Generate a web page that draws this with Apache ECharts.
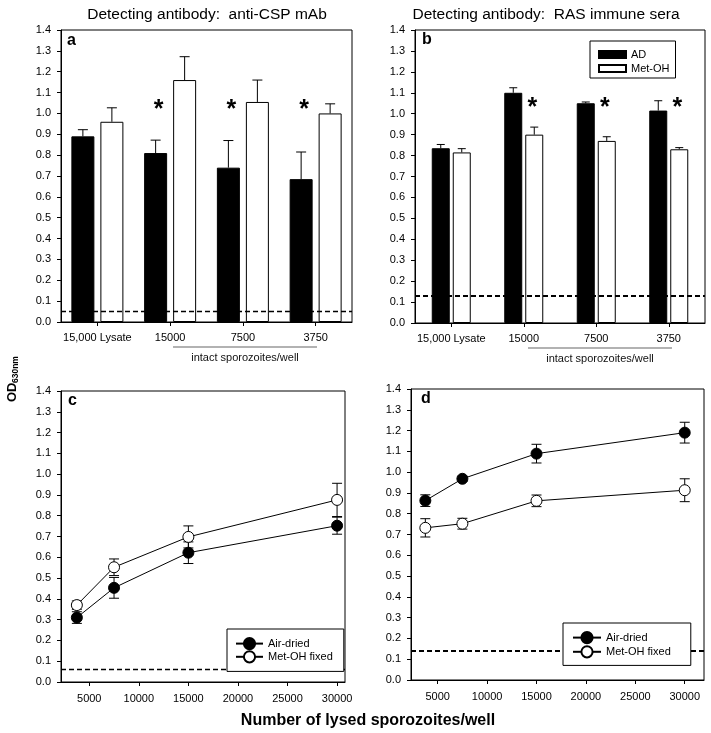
<!DOCTYPE html>
<html><head><meta charset="utf-8">
<script src="https://cdn.jsdelivr.net/npm/echarts@6/dist/echarts.min.js"></script>
<style>html,body{margin:0;padding:0;background:#fff}#c{width:711px;height:733px}</style>
</head><body><div id="c"></div>
<script>
// ---------- data ----------
const barCategories = ['15,000 Lysate', '15000', '7500', '3750'];
const cspAD = [0.89, 0.81, 0.74, 0.685];
const cspADErr = [0.032, 0.062, 0.13, 0.13];
const cspMetOH = [0.96, 1.16, 1.055, 1.0];
const cspMetOHErr = [0.067, 0.112, 0.105, 0.046];
const rasAD = [0.835, 1.10, 1.05, 1.015];
const rasADErr = [0.018, 0.024, 0.006, 0.047];
const rasMetOH = [0.815, 0.90, 0.87, 0.83];
const rasMetOHErr = [0.018, 0.036, 0.02, 0.008];
const starCatsA = [1, 2, 3];
const starValA = 1.04;
const starCatsB = [1, 2, 3];
const starValB = 1.05;
const cutoffA = 0.05, cutoffB = 0.125, cutoffC = 0.06, cutoffD = 0.145;

const lysedX = [3750, 7500, 15000, 30000];
const cAir = [0.31, 0.453, 0.622, 0.752];
const cAirErr = [0.028, 0.05, 0.052, 0.041];
const cMet = [0.37, 0.552, 0.698, 0.876];
const cMetErr = [0.02, 0.04, 0.053, 0.08];
const dAir = [0.863, 0.968, 1.089, 1.19];
const dAirErr = [0.028, 0.012, 0.045, 0.05];
const dMet = [0.732, 0.752, 0.862, 0.913];
const dMetErr = [0.044, 0.026, 0.028, 0.055];
const xTickValues = [5000, 10000, 15000, 20000, 25000, 30000];

// ---------- styling ----------
const FONT = 'Liberation Sans, Arial, sans-serif';
const grids = [
  {left: 61, top: 30, width: 291, height: 292},
  {left: 415, top: 30, width: 290, height: 293},
  {left: 61, top: 391, width: 284, height: 291},
  {left: 411, top: 389, width: 293, height: 291}
];
const BW_A = 23, GAP_A = 6, BW_B = 18, GAP_B = 3;

function yAxis(gi) {
  return {
    type: 'value', gridIndex: gi, min: 0, max: 1.4, interval: 0.1,
    axisLine: {show: true, lineStyle: {color: '#000', width: 1}},
    axisTick: {show: true, inside: false, length: 4, lineStyle: {color: '#000'}},
    axisLabel: {color: '#000', fontSize: 11, fontFamily: FONT, margin: 10,
      formatter: v => v.toFixed(1)},
    splitLine: {show: false}
  };
}
function catAxis(gi) {
  return {
    type: 'category', gridIndex: gi, data: barCategories,
    axisLine: {show: true, lineStyle: {color: '#000', width: 1}},
    axisTick: {show: true, alignWithLabel: true, length: 4, lineStyle: {color: '#000'}},
    axisLabel: {color: '#000', fontSize: 11, fontFamily: FONT, margin: 10, interval: 0}
  };
}
function valXAxis(gi, mn, mx) {
  return {
    type: 'value', gridIndex: gi, min: mn, max: mx,
    axisLine: {show: true, lineStyle: {color: '#000', width: 1}},
    axisTick: {show: true, length: 4, lineStyle: {color: '#000'}, customValues: xTickValues},
    axisLabel: {color: '#000', fontSize: 11, fontFamily: FONT, margin: 11,
      customValues: xTickValues, formatter: v => String(v)},
    splitLine: {show: false}
  };
}
function dashed(val, w) {
  return {symbol: 'none', silent: true, label: {show: false},
    lineStyle: {type: [5, 3], color: '#000', width: w},
    emphasis: {disabled: true},
    data: [{yAxis: val}]};
}
function barSeries(name, gi, vals, fill, bw, gap, cutoff, lw) {
  const s = {
    type: 'bar', name: name, xAxisIndex: gi, yAxisIndex: gi, data: vals,
    barWidth: bw, barGap: (gap / bw * 100) + '%',
    itemStyle: {color: fill, borderColor: '#000', borderWidth: 1},
    silent: true, z: 2
  };
  if (cutoff != null) s.markLine = dashed(cutoff, lw);
  return s;
}
function barErrSeries(gi, vals, errs, offset, cap) {
  return {
    type: 'custom', xAxisIndex: gi, yAxisIndex: gi, silent: true, z: 3,
    data: vals.map((v, i) => [i, v, errs[i]]),
    encode: {x: 0, y: 1},
    renderItem: function (params, api) {
      const i = api.value(0), v = api.value(1), e = api.value(2);
      const b = api.coord([i, v]), t = api.coord([i, v + e]);
      const x = b[0] + offset;
      return {type: 'group', children: [
        {type: 'line', shape: {x1: x, y1: b[1], x2: x, y2: t[1]}, style: {stroke: '#000', lineWidth: 1}},
        {type: 'line', shape: {x1: x - cap, y1: t[1], x2: x + cap, y2: t[1]}, style: {stroke: '#000', lineWidth: 1}}
      ]};
    }
  };
}
function starSeries(gi, cats, val, offset) {
  return {
    type: 'custom', xAxisIndex: gi, yAxisIndex: gi, silent: true, z: 5,
    data: cats.map(c => [c, val]), encode: {x: 0, y: 1},
    renderItem: function (params, api) {
      const p = api.coord([api.value(0), api.value(1)]);
      return {type: 'text', x: p[0] + offset, y: p[1] + 5,
        style: {text: '*', fontSize: 25, fontWeight: 'bold', fontFamily: FONT,
          align: 'center', verticalAlign: 'middle', fill: '#000'}};
    }
  };
}
function lineSeries(name, gi, xs, ys, filled, cutoff, lw) {
  const s = {
    type: 'line', name: name, xAxisIndex: gi, yAxisIndex: gi,
    data: xs.map((x, i) => [x, ys[i]]),
    symbol: 'circle', symbolSize: 11, showSymbol: true,
    lineStyle: {color: '#000', width: 1},
    itemStyle: {color: filled ? '#000' : '#fff', borderColor: '#000', borderWidth: 1, opacity: 1},
    silent: true, z: 4
  };
  if (cutoff != null) s.markLine = dashed(cutoff, lw);
  return s;
}
function lineErrSeries(gi, xs, ys, errs, cap) {
  return {
    type: 'custom', xAxisIndex: gi, yAxisIndex: gi, silent: true, z: 3,
    data: xs.map((x, i) => [x, ys[i], errs[i]]), encode: {x: 0, y: 1},
    renderItem: function (params, api) {
      const x = api.value(0), v = api.value(1), e = api.value(2);
      const lo = api.coord([x, v - e]), hi = api.coord([x, v + e]);
      const px = lo[0];
      return {type: 'group', children: [
        {type: 'line', shape: {x1: px, y1: lo[1], x2: px, y2: hi[1]}, style: {stroke: '#000', lineWidth: 1}},
        {type: 'line', shape: {x1: px - cap, y1: lo[1], x2: px + cap, y2: lo[1]}, style: {stroke: '#000', lineWidth: 1}},
        {type: 'line', shape: {x1: px - cap, y1: hi[1], x2: px + cap, y2: hi[1]}, style: {stroke: '#000', lineWidth: 1}}
      ]};
    }
  };
}

const offA = (BW_A + GAP_A) / 2, offB = (BW_B + GAP_B) / 2;

const option = {
  animation: false,
  backgroundColor: '#fff',
  textStyle: {fontFamily: FONT, color: '#000'},
  title: [
    {text: 'Detecting antibody:  anti-CSP mAb', left: 202, top: 2, textAlign: 'center',
      textStyle: {fontSize: 15.5, fontWeight: 'normal', color: '#000', fontFamily: FONT}},
    {text: 'Detecting antibody:  RAS immune sera', left: 541, top: 2, textAlign: 'center',
      textStyle: {fontSize: 15.5, fontWeight: 'normal', color: '#000', fontFamily: FONT}}
  ],
  grid: grids.map(g => Object.assign({show: true, borderColor: '#000', borderWidth: 1,
    backgroundColor: 'transparent', containLabel: false}, g)),
  xAxis: [catAxis(0), catAxis(1), valXAxis(2, 2150, 30800), valXAxis(3, 2300, 31950)],
  yAxis: [yAxis(0), yAxis(1), yAxis(2), yAxis(3)],
  legend: [
    {data: ['AD', 'Met-OH'], orient: 'vertical', left: 590, top: 41, z: 20,
      padding: [8, 6, 4, 8], itemGap: 3, itemWidth: 27, itemHeight: 7, icon: 'rect',
      backgroundColor: '#fff', borderColor: '#000', borderWidth: 1, selectedMode: false,
      textStyle: {fontSize: 11, color: '#000', fontFamily: FONT}},
    {data: ['Air-dried', 'Met-OH fixed'], orient: 'vertical', left: 227, top: 629, z: 20,
      padding: [8, 11, 8, 8], itemGap: 0, itemWidth: 27, itemHeight: 14,
      backgroundColor: '#fff', borderColor: '#000', borderWidth: 1, selectedMode: false,
      textStyle: {fontSize: 11, color: '#000', fontFamily: FONT}},
    {data: ['Air-dried', 'Met-OH fixed'], orient: 'vertical', left: 563, top: 623, z: 20,
      padding: [8, 20, 7, 9], itemGap: 1, itemWidth: 28, itemHeight: 14,
      backgroundColor: '#fff', borderColor: '#000', borderWidth: 1, selectedMode: false,
      textStyle: {fontSize: 11, color: '#000', fontFamily: FONT}}
  ],
  series: [
    barSeries('AD (anti-CSP)', 0, cspAD, '#000', BW_A, GAP_A, cutoffA, 1.3),
    barSeries('Met-OH (anti-CSP)', 0, cspMetOH, '#fff', BW_A, GAP_A, null),
    barErrSeries(0, cspAD, cspADErr, -offA, 5),
    barErrSeries(0, cspMetOH, cspMetOHErr, offA, 5),
    starSeries(0, starCatsA, starValA, -offA + 3),

    barSeries('AD', 1, rasAD, '#000', BW_B, GAP_B, cutoffB, 2),
    barSeries('Met-OH', 1, rasMetOH, '#fff', BW_B, GAP_B, null),
    barErrSeries(1, rasAD, rasADErr, -offB, 4),
    barErrSeries(1, rasMetOH, rasMetOHErr, offB, 4),
    starSeries(1, starCatsB, starValB, offB - 2),

    lineErrSeries(2, lysedX, cAir, cAirErr, 5),
    lineErrSeries(2, lysedX, cMet, cMetErr, 5),
    lineSeries('Air-dried', 2, lysedX, cAir, true, cutoffC, 1.3),
    lineSeries('Met-OH fixed', 2, lysedX, cMet, false, null),

    lineErrSeries(3, lysedX, dAir, dAirErr, 5),
    lineErrSeries(3, lysedX, dMet, dMetErr, 5),
    lineSeries('Air-dried', 3, lysedX, dAir, true, cutoffD, 2),
    lineSeries('Met-OH fixed', 3, lysedX, dMet, false, null)
  ],
  graphic: [
    {type: 'text', x: 67, y: 41, style: {text: 'a', fontSize: 16, fontWeight: 'bold', fontFamily: FONT, verticalAlign: 'middle', fill: '#000'}},
    {type: 'text', x: 422, y: 40, style: {text: 'b', fontSize: 16, fontWeight: 'bold', fontFamily: FONT, verticalAlign: 'middle', fill: '#000'}},
    {type: 'text', x: 68, y: 401, style: {text: 'c', fontSize: 16, fontWeight: 'bold', fontFamily: FONT, verticalAlign: 'middle', fill: '#000'}},
    {type: 'text', x: 421, y: 399, style: {text: 'd', fontSize: 16, fontWeight: 'bold', fontFamily: FONT, verticalAlign: 'middle', fill: '#000'}},
    {type: 'line', shape: {x1: 173, y1: 347, x2: 317, y2: 347}, style: {stroke: '#999', lineWidth: 1.5}},
    {type: 'text', x: 245, y: 357.5, style: {text: 'intact sporozoites/well', fontSize: 11, fontFamily: FONT, align: 'center', verticalAlign: 'middle', fill: '#111'}},
    {type: 'line', shape: {x1: 528, y1: 348, x2: 672, y2: 348}, style: {stroke: '#999', lineWidth: 1.5}},
    {type: 'text', x: 600, y: 359, style: {text: 'intact sporozoites/well', fontSize: 11, fontFamily: FONT, align: 'center', verticalAlign: 'middle', fill: '#111'}},
    {type: 'text', x: 368, y: 721, style: {text: 'Number of lysed sporozoites/well', fontSize: 16, fontWeight: 'bold', fontFamily: FONT, align: 'center', verticalAlign: 'middle', fill: '#000'}},
    {type: 'group', x: 12, y: 402, rotation: Math.PI / 2, children: [
      {type: 'text', x: 0, y: 0, style: {text: 'OD', fontSize: 13, fontWeight: 'bold', fontFamily: FONT, align: 'left', verticalAlign: 'middle', fill: '#000'}},
      {type: 'text', x: 19, y: 3.5, style: {text: '630nm', fontSize: 8.5, fontWeight: 'bold', fontFamily: FONT, align: 'left', verticalAlign: 'middle', fill: '#000'}}
    ]}
  ]
};
const chart = echarts.init(document.getElementById('c'), null, {renderer: 'canvas', width: 711, height: 733});
chart.setOption(option);
</script>
</body></html>
